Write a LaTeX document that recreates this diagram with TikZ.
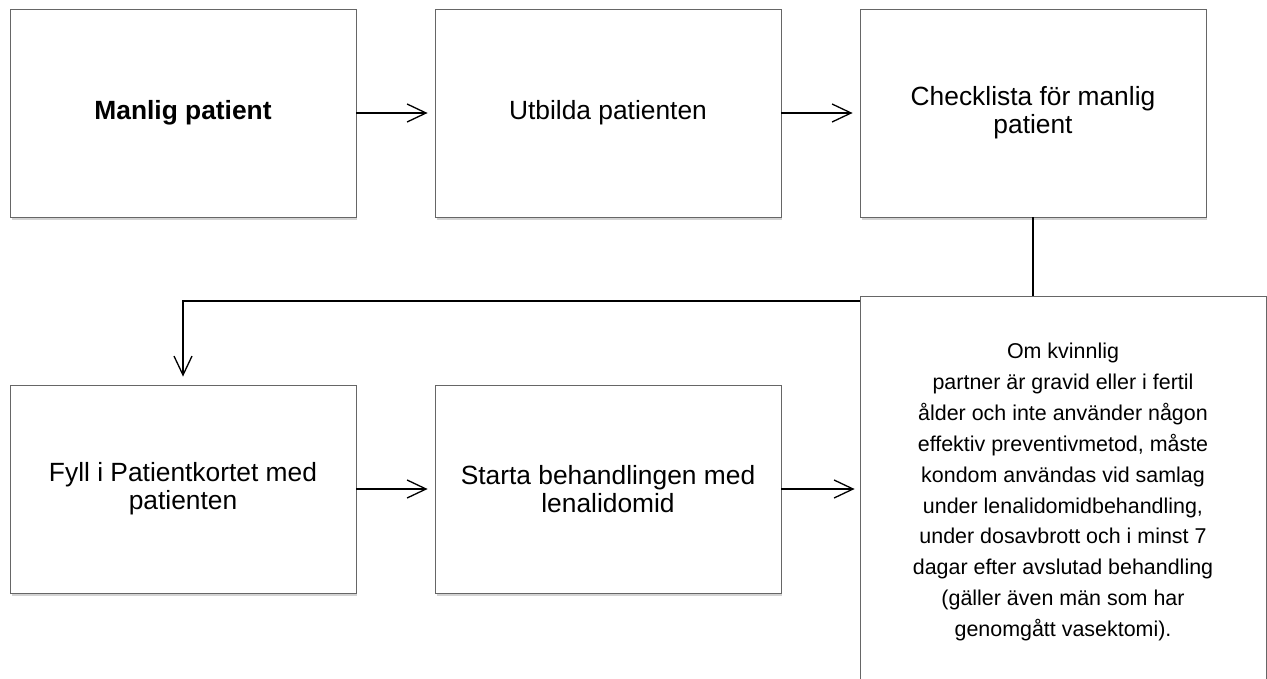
\documentclass[tikz,border=0pt]{standalone}
\usepackage{fontspec}
\setmainfont{Liberation Sans}
\usetikzlibrary{arrows.meta, shadows}
\tikzstyle{box} = [draw=gray!80!black, line width=0.5pt, fill=white, minimum width=6.92cm, minimum height=4.16cm, align=center, font=\fontsize{15}{16}\selectfont, drop shadow={shadow xshift=0.03cm, shadow yshift=-0.06cm, opacity=0.35}]
\tikzstyle{arrow} = [-{Straight Barb[length=0.38cm,width=0.36cm]}, line width=0.75pt]

\begin{document}
\begin{tikzpicture}[x=0.02cm,y=-0.02cm]
\useasboundingbox (0,0) rectangle (1267,679);
\clip (0,0) rectangle (1267,679);
\node[box] (manlig) at (183,113) {\textbf{Manlig patient}};
\node[box] (utbilda) at (608,113) {Utbilda patienten};
\node[box] (check) at (1033,113) {Checklista för manlig\\patient};
\node[box] (fyll) at (183,489) {Fyll i Patientkortet med\\patienten};
\node[box] (starta) at (608,489) {Starta behandlingen med\\lenalidomid};
\coordinate (knee) at (1033,301);
\draw[arrow, shorten >=0.16cm] (check.south) -- (knee) -- (fyll.north |- knee) -- (fyll.north);
\node[box, minimum width=8.12cm, minimum height=7.84cm, font=\fontsize{12.2}{17.6}\selectfont] (note) at (1063,492) {Om kvinnlig\\partner är gravid eller i fertil\\ålder och inte använder någon\\effektiv preventivmetod, måste\\kondom användas vid samlag\\under lenalidomidbehandling,\\under dosavbrott och i minst 7\\dagar efter avslutad behandling\\(gäller även män som har\\genomgått vasektomi).};
\draw[arrow, shorten >=0.14cm] (manlig) -- (utbilda);
\draw[arrow, shorten >=0.14cm] (utbilda) -- (check);
\draw[arrow, shorten >=0.14cm] (fyll) -- (starta);
\draw[arrow, shorten >=0.1cm] (starta) -- (starta -| note.west);
\end{tikzpicture}
\end{document}
